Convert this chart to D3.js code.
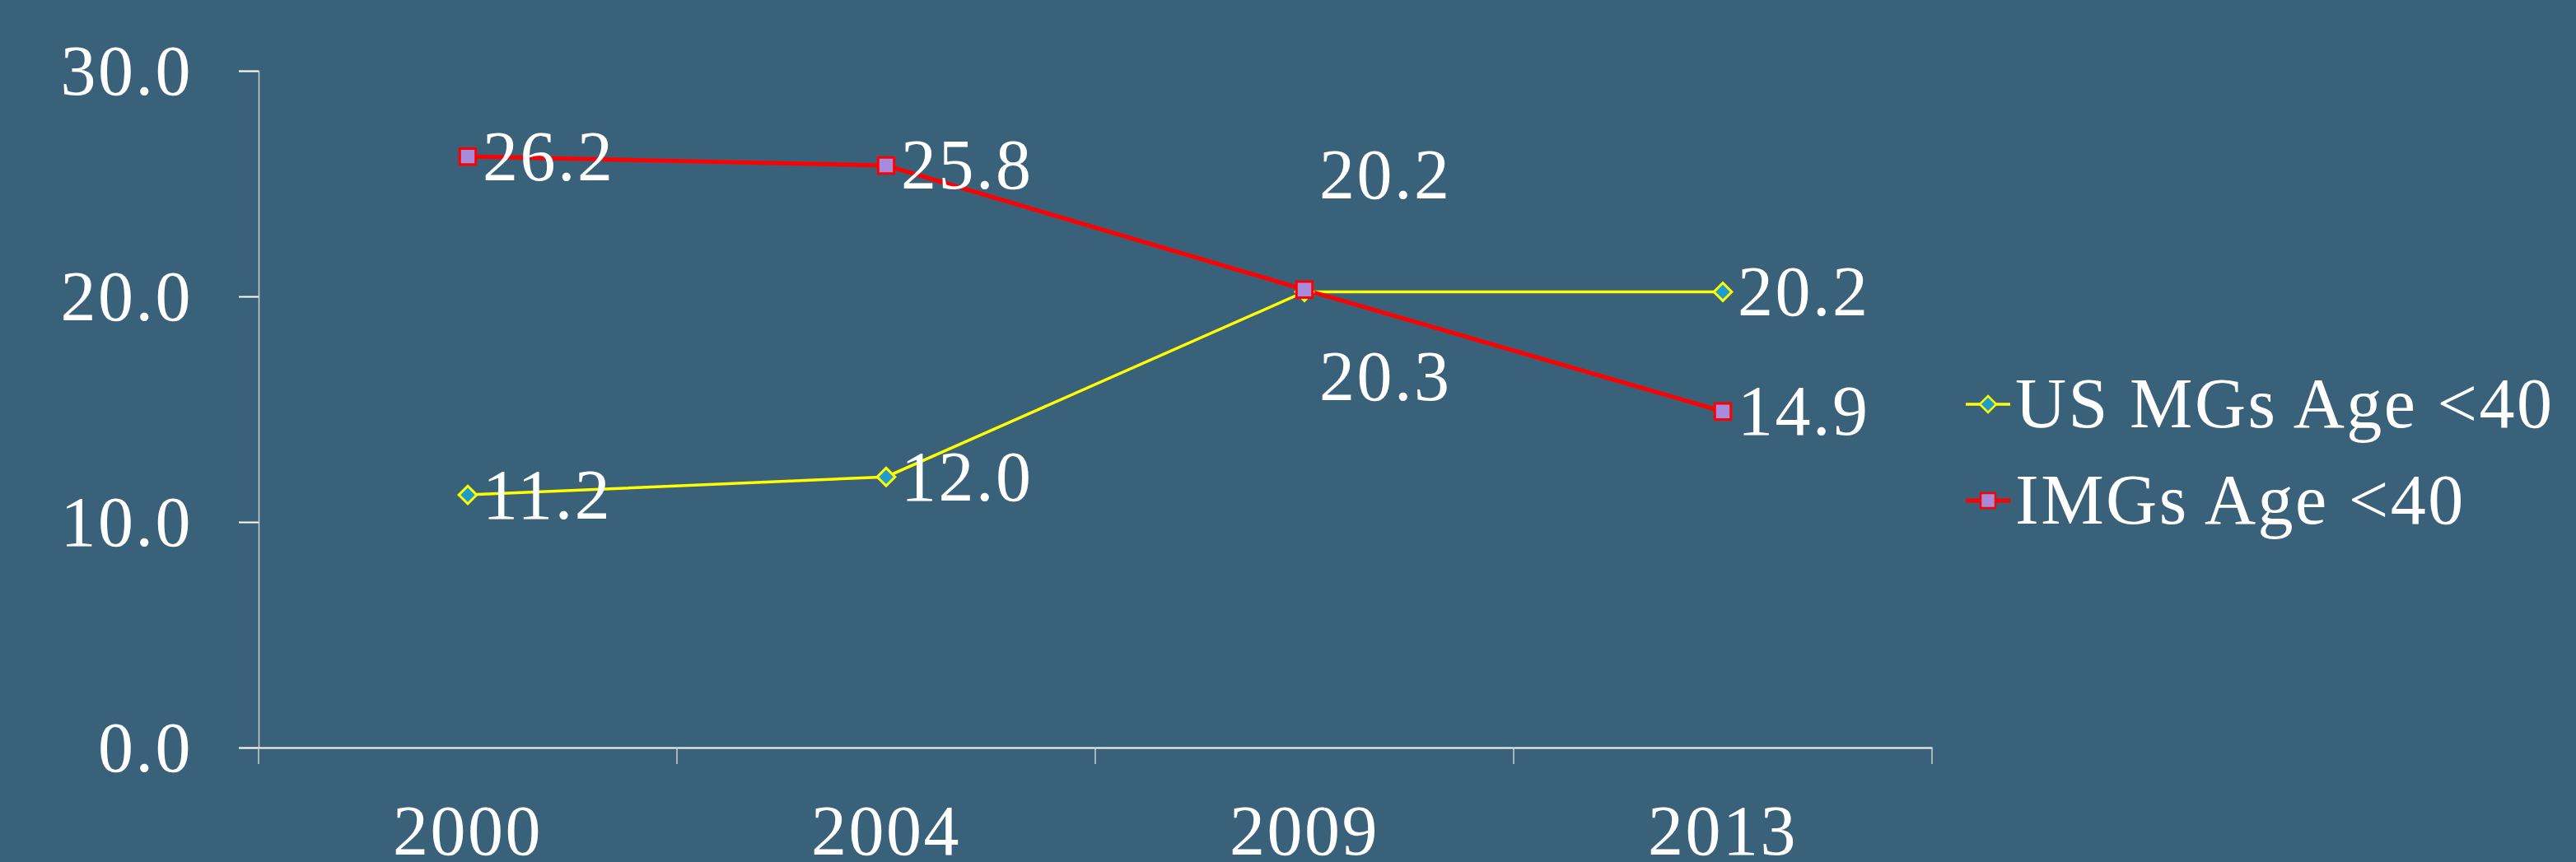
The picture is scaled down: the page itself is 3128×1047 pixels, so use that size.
<!DOCTYPE html>
<html>
<head>
<meta charset="utf-8">
<script src="https://cdn.jsdelivr.net/npm/d3@7"></script>
<style>
  html, body { margin: 0; padding: 0; background: #3a617a; }
  text { font-family: "Liberation Serif", "DejaVu Serif", serif; fill: #fff; letter-spacing: 2.5px; }
</style>
</head>
<body>
<div id="chart"></div>
<script>
var W = 3128, H = 1047;
var margin = { top: 86, left: 314, right: 782, bottom: 139 },
    width = W - margin.left - margin.right,
    height = H - margin.top - margin.bottom;

// data
var years = ["2000", "2004", "2009", "2013"];
var usMGs = [11.2, 12.0, 20.2, 20.2];
var imgs = [26.2, 25.8, 20.3, 14.9];
var yTicks = [0, 10, 20, 30];
var seriesNames = ["US MGs Age <40", "IMGs Age <40"];

var series = [
  { name: seriesNames[0], values: usMGs, line: "#ffff00", lw: 3.5, fill: "#1e9ccc", stroke: "#ffff00", shape: d3.symbolDiamond2, size: 300 },
  { name: seriesNames[1], values: imgs, line: "#ff0000", lw: 5, fill: "#a98bdc", stroke: "#ff0000", shape: d3.symbolSquare2, size: 480 }
];

var svg = d3.select("#chart").append("svg")
    .attr("width", W)
    .attr("height", H);

svg.append("rect").attr("width", W).attr("height", H).attr("fill", "#3a617a");

var g = svg.append("g").attr("transform", "translate(" + margin.left + "," + margin.top + ")");

var x = d3.scaleBand().domain(years).range([0, width]).padding(0);
var y = d3.scaleLinear().domain([0, 30]).range([height, 0]);
var cx = function(d) { return x(d) + x.bandwidth() / 2; };

// y axis
var yAx = g.append("g")
    .call(d3.axisLeft(y).tickValues(yTicks).tickFormat(d3.format(".1f")).tickSize(24).tickPadding(56));
yAx.select(".domain").attr("stroke", "#c8d0d6").attr("stroke-width", 1.5);
yAx.selectAll(".tick line").attr("stroke", "#fff").attr("stroke-width", 2);
yAx.selectAll(".tick text").attr("fill", "#fff").style("font-size", "86px").attr("dy", "0.33em");

// x axis: labels centred in bands, ticks on band edges
var xAx = g.append("g")
    .attr("transform", "translate(0," + height + ")")
    .call(d3.axisBottom(x).tickSize(0).tickPadding(0));
xAx.select(".domain").attr("stroke", "#fff").attr("stroke-width", 2);
xAx.selectAll(".tick text").attr("fill", "#fff").style("font-size", "86px").attr("dy", null).attr("y", 130);

var edges = years.map(function(d) { return x(d); }).concat([width]);
xAx.selectAll(".edge").data(edges).enter().append("line")
    .attr("class", "edge")
    .attr("x1", function(d) { return d; }).attr("x2", function(d) { return d; })
    .attr("y1", 0).attr("y2", 20)
    .attr("stroke", "#c8d0d6").attr("stroke-width", 1.5);

// lines
var line = d3.line()
    .x(function(d, i) { return cx(years[i]); })
    .y(function(d) { return y(d); });

series.forEach(function(s) {
  g.append("path").datum(s.values)
      .attr("fill", "none")
      .attr("stroke", s.line)
      .attr("stroke-width", s.lw)
      .attr("d", line);
});

series.forEach(function(s) {
  g.selectAll(null).data(s.values).enter().append("path")
      .attr("transform", function(d, i) { return "translate(" + cx(years[i]) + "," + y(d) + ")"; })
      .attr("d", d3.symbol().type(s.shape).size(s.size))
      .attr("fill", s.fill)
      .attr("stroke", s.stroke)
      .attr("stroke-width", 3);
});

// data labels (2009 pair is pushed apart like in the original)
series.forEach(function(s, si) {
  g.selectAll(null).data(s.values).enter().append("text")
      .attr("x", function(d, i) { return cx(years[i]) + 18; })
      .attr("y", function(d, i) {
        var off = 0;
        if (i === 2) off = si === 0 ? -142 : 106;
        return y(d) + off;
      })
      .attr("dy", "0.33em")
      .style("font-size", "86px")
      .text(function(d) { return d3.format(".1f")(d); });
});

// legend
var legend = svg.append("g")
    .attr("transform", "translate(2387,491)")
    .selectAll("g")
    .data(series)
    .enter().append("g")
    .attr("transform", function(d, i) { return "translate(0," + i * 117 + ")"; });

legend.append("line")
    .attr("x1", 0).attr("x2", 54)
    .attr("stroke", function(d) { return d.line; })
    .attr("stroke-width", function(d) { return d.lw; });

legend.append("path")
    .attr("transform", "translate(27,0)")
    .attr("d", function(d) { return d3.symbol().type(d.shape).size(d.size * 0.85)(); })
    .attr("fill", function(d) { return d.fill; })
    .attr("stroke", function(d) { return d.stroke; })
    .attr("stroke-width", 2.5);

legend.append("text")
    .attr("x", 60)
    .attr("dy", "0.33em")
    .style("font-size", "86px")
    .text(function(d) { return d.name; });
</script>
</body>
</html>
